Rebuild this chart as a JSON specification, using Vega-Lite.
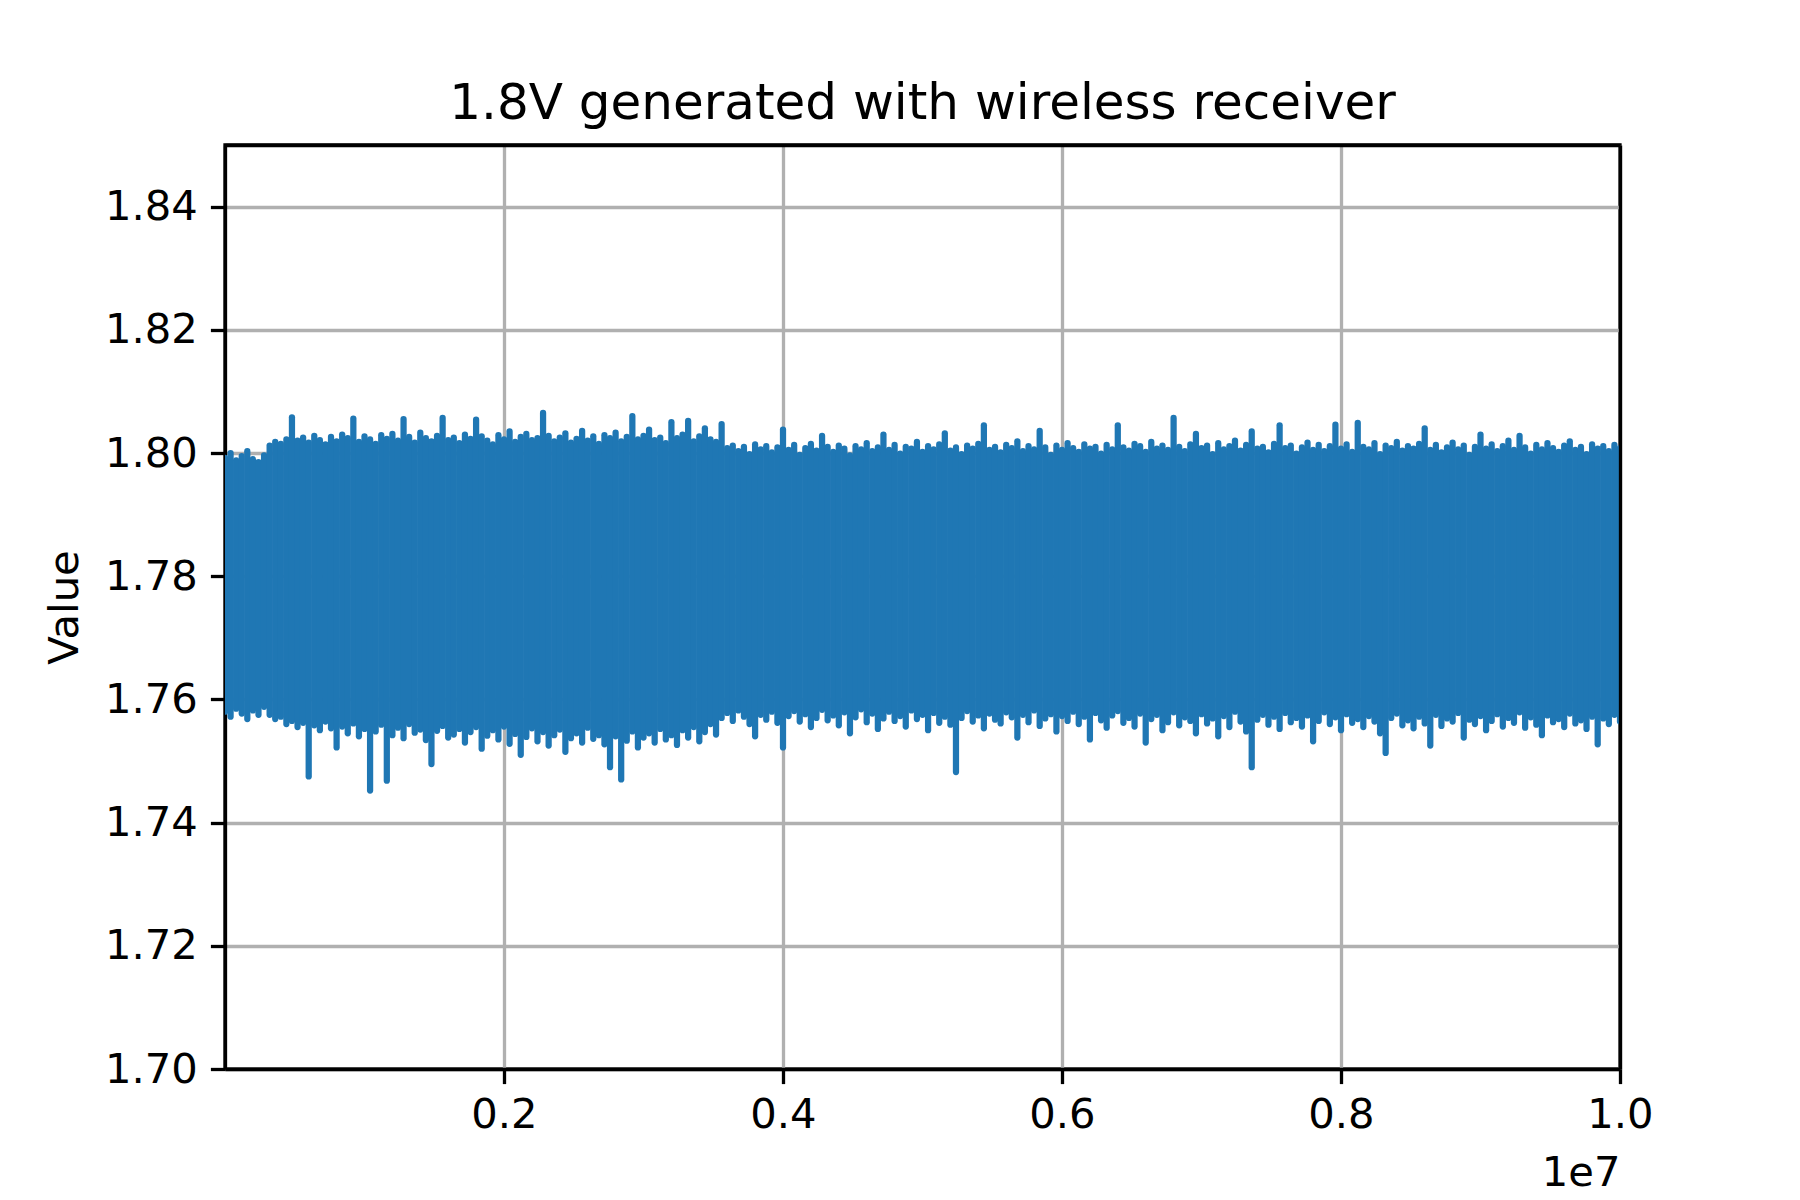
{
"$schema":"https://vega.github.io/schema/vega-lite/v6.json",
"width":1395,"height":924,
"autosize":{"type":"none"},
"padding":{"left":225,"top":145,"right":180,"bottom":132},
"background":"white",
"title":{"text":"1.8V generated with wireless receiver","fontSize":50,"font":"DejaVu Sans","fontWeight":"normal","color":"black","offset":-24,"baseline":"alphabetic"},
"data":{"values":[
{"x":0,"hi":1.7992,"lo":1.7580},{"x":40000,"hi":1.8000,"lo":1.7572},{"x":80000,"hi":1.7988,"lo":1.7585},{"x":120000,"hi":1.7995,"lo":1.7577},{"x":160000,"hi":1.8003,"lo":1.7568},{"x":200000,"hi":1.7990,"lo":1.7582},{"x":240000,"hi":1.7985,"lo":1.7575},{"x":280000,"hi":1.7996,"lo":1.7588},
{"x":320000,"hi":1.8012,"lo":1.7575},{"x":360000,"hi":1.8018,"lo":1.7568},{"x":400000,"hi":1.8015,"lo":1.7572},{"x":440000,"hi":1.8022,"lo":1.7560},{"x":480000,"hi":1.8058,"lo":1.7565},{"x":520000,"hi":1.8020,"lo":1.7555},{"x":560000,"hi":1.8025,"lo":1.7562},{"x":600000,"hi":1.8017,"lo":1.7475},{"x":640000,"hi":1.8028,"lo":1.7558},{"x":680000,"hi":1.8021,"lo":1.7550},{"x":720000,"hi":1.8014,"lo":1.7564},{"x":760000,"hi":1.8026,"lo":1.7553},{"x":800000,"hi":1.8019,"lo":1.7522},{"x":840000,"hi":1.8030,"lo":1.7556},{"x":880000,"hi":1.8024,"lo":1.7545},{"x":920000,"hi":1.8056,"lo":1.7561},{"x":960000,"hi":1.8018,"lo":1.7540},{"x":1000000,"hi":1.8027,"lo":1.7552},{"x":1040000,"hi":1.8022,"lo":1.7452},{"x":1080000,"hi":1.8015,"lo":1.7548},{"x":1120000,"hi":1.8029,"lo":1.7559},{"x":1160000,"hi":1.8023,"lo":1.7468},{"x":1200000,"hi":1.8031,"lo":1.7542},{"x":1240000,"hi":1.8020,"lo":1.7554},{"x":1280000,"hi":1.8055,"lo":1.7537},{"x":1320000,"hi":1.8026,"lo":1.7560},{"x":1360000,"hi":1.8017,"lo":1.7546},{"x":1400000,"hi":1.8033,"lo":1.7551},{"x":1440000,"hi":1.8024,"lo":1.7534},{"x":1480000,"hi":1.8019,"lo":1.7495},{"x":1520000,"hi":1.8028,"lo":1.7549},{"x":1560000,"hi":1.8057,"lo":1.7557},{"x":1600000,"hi":1.8021,"lo":1.7538},{"x":1640000,"hi":1.8025,"lo":1.7543},{"x":1680000,"hi":1.8016,"lo":1.7552},{"x":1720000,"hi":1.8030,"lo":1.7530},{"x":1760000,"hi":1.8023,"lo":1.7547},{"x":1800000,"hi":1.8054,"lo":1.7555},{"x":1840000,"hi":1.8027,"lo":1.7520},{"x":1880000,"hi":1.8020,"lo":1.7541},{"x":1920000,"hi":1.8014,"lo":1.7550},{"x":1960000,"hi":1.8029,"lo":1.7535},{"x":2000000,"hi":1.8022,"lo":1.7556},{"x":2040000,"hi":1.8035,"lo":1.7528},{"x":2080000,"hi":1.8018,"lo":1.7544},{"x":2120000,"hi":1.8026,"lo":1.7510},{"x":2160000,"hi":1.8031,"lo":1.7539},{"x":2200000,"hi":1.8021,"lo":1.7553},{"x":2240000,"hi":1.8024,"lo":1.7532},{"x":2280000,"hi":1.8065,"lo":1.7547},{"x":2320000,"hi":1.8028,"lo":1.7525},{"x":2360000,"hi":1.8019,"lo":1.7542},{"x":2400000,"hi":1.8025,"lo":1.7551},{"x":2440000,"hi":1.8032,"lo":1.7515},{"x":2480000,"hi":1.8017,"lo":1.7537},{"x":2520000,"hi":1.8023,"lo":1.7545},{"x":2560000,"hi":1.8036,"lo":1.7530},{"x":2600000,"hi":1.8020,"lo":1.7554},{"x":2640000,"hi":1.8027,"lo":1.7536},{"x":2680000,"hi":1.8015,"lo":1.7542},{"x":2720000,"hi":1.8029,"lo":1.7527},{"x":2760000,"hi":1.8024,"lo":1.7490},{"x":2800000,"hi":1.8033,"lo":1.7540},{"x":2840000,"hi":1.8019,"lo":1.7470},{"x":2880000,"hi":1.8026,"lo":1.7533},{"x":2920000,"hi":1.8060,"lo":1.7548},{"x":2960000,"hi":1.8022,"lo":1.7522},{"x":3000000,"hi":1.8028,"lo":1.7538},{"x":3040000,"hi":1.8038,"lo":1.7545},{"x":3080000,"hi":1.8021,"lo":1.7530},{"x":3120000,"hi":1.8025,"lo":1.7552},{"x":3160000,"hi":1.8016,"lo":1.7535},{"x":3200000,"hi":1.8050,"lo":1.7542},{"x":3240000,"hi":1.8024,"lo":1.7526},{"x":3280000,"hi":1.8030,"lo":1.7550},{"x":3320000,"hi":1.8052,"lo":1.7538},{"x":3360000,"hi":1.8019,"lo":1.7555},{"x":3400000,"hi":1.8027,"lo":1.7532},{"x":3440000,"hi":1.8040,"lo":1.7547},{"x":3480000,"hi":1.8022,"lo":1.7560},{"x":3520000,"hi":1.8018,"lo":1.7543},
{"x":3560000,"hi":1.8047,"lo":1.7570},{"x":3600000,"hi":1.8008,"lo":1.7578},{"x":3640000,"hi":1.8012,"lo":1.7565},{"x":3680000,"hi":1.8003,"lo":1.7582},{"x":3720000,"hi":1.8010,"lo":1.7572},{"x":3760000,"hi":1.7998,"lo":1.7560},{"x":3800000,"hi":1.8014,"lo":1.7540},{"x":3840000,"hi":1.8006,"lo":1.7575},{"x":3880000,"hi":1.8011,"lo":1.7567},{"x":3920000,"hi":1.8001,"lo":1.7580},{"x":3960000,"hi":1.8009,"lo":1.7562},{"x":4000000,"hi":1.8038,"lo":1.7522},{"x":4040000,"hi":1.8005,"lo":1.7573},{"x":4080000,"hi":1.8013,"lo":1.7581},{"x":4120000,"hi":1.7997,"lo":1.7564},{"x":4160000,"hi":1.8008,"lo":1.7576},{"x":4200000,"hi":1.8015,"lo":1.7555},{"x":4240000,"hi":1.8004,"lo":1.7570},{"x":4280000,"hi":1.8028,"lo":1.7583},{"x":4320000,"hi":1.8010,"lo":1.7566},{"x":4360000,"hi":1.8002,"lo":1.7574},{"x":4400000,"hi":1.8012,"lo":1.7558},{"x":4440000,"hi":1.8007,"lo":1.7579},{"x":4480000,"hi":1.7996,"lo":1.7545},{"x":4520000,"hi":1.8011,"lo":1.7571},{"x":4560000,"hi":1.8006,"lo":1.7584},{"x":4600000,"hi":1.8016,"lo":1.7563},{"x":4640000,"hi":1.8003,"lo":1.7577},{"x":4680000,"hi":1.8009,"lo":1.7552},{"x":4720000,"hi":1.8030,"lo":1.7569},{"x":4760000,"hi":1.8005,"lo":1.7580},{"x":4800000,"hi":1.8013,"lo":1.7565},{"x":4840000,"hi":1.7999,"lo":1.7573},{"x":4880000,"hi":1.8010,"lo":1.7556},{"x":4920000,"hi":1.8007,"lo":1.7582},{"x":4960000,"hi":1.8018,"lo":1.7568},{"x":5000000,"hi":1.8002,"lo":1.7575},{"x":5040000,"hi":1.8011,"lo":1.7550},{"x":5080000,"hi":1.8006,"lo":1.7578},{"x":5120000,"hi":1.8014,"lo":1.7562},{"x":5160000,"hi":1.8032,"lo":1.7572},{"x":5200000,"hi":1.8004,"lo":1.7559},{"x":5240000,"hi":1.8009,"lo":1.7482},{"x":5280000,"hi":1.7998,"lo":1.7570},{"x":5320000,"hi":1.8012,"lo":1.7581},{"x":5360000,"hi":1.8007,"lo":1.7564},{"x":5400000,"hi":1.8015,"lo":1.7574},{"x":5440000,"hi":1.8045,"lo":1.7553},{"x":5480000,"hi":1.8005,"lo":1.7577},{"x":5520000,"hi":1.8010,"lo":1.7567},{"x":5560000,"hi":1.8001,"lo":1.7561},{"x":5600000,"hi":1.8013,"lo":1.7579},{"x":5640000,"hi":1.8008,"lo":1.7571},{"x":5680000,"hi":1.8019,"lo":1.7538},{"x":5720000,"hi":1.8003,"lo":1.7575},{"x":5760000,"hi":1.8011,"lo":1.7563},{"x":5800000,"hi":1.8006,"lo":1.7582},{"x":5840000,"hi":1.8036,"lo":1.7557},{"x":5880000,"hi":1.8009,"lo":1.7569},{"x":5920000,"hi":1.7997,"lo":1.7576},{"x":5960000,"hi":1.8012,"lo":1.7548},{"x":6000000,"hi":1.8005,"lo":1.7573},{"x":6040000,"hi":1.8016,"lo":1.7565},{"x":6080000,"hi":1.8008,"lo":1.7580},{"x":6120000,"hi":1.8002,"lo":1.7560},{"x":6160000,"hi":1.8014,"lo":1.7572},{"x":6200000,"hi":1.8007,"lo":1.7535},{"x":6240000,"hi":1.8010,"lo":1.7578},{"x":6280000,"hi":1.7999,"lo":1.7566},{"x":6320000,"hi":1.8013,"lo":1.7554},{"x":6360000,"hi":1.8006,"lo":1.7574},{"x":6400000,"hi":1.8045,"lo":1.7581},{"x":6440000,"hi":1.8009,"lo":1.7562},{"x":6480000,"hi":1.8004,"lo":1.7570},{"x":6520000,"hi":1.8015,"lo":1.7556},{"x":6560000,"hi":1.8011,"lo":1.7577},{"x":6600000,"hi":1.8002,"lo":1.7530},{"x":6640000,"hi":1.8018,"lo":1.7568},{"x":6680000,"hi":1.8007,"lo":1.7575},{"x":6720000,"hi":1.8012,"lo":1.7550},{"x":6760000,"hi":1.8005,"lo":1.7563},{"x":6800000,"hi":1.8057,"lo":1.7579},{"x":6840000,"hi":1.8010,"lo":1.7558},{"x":6880000,"hi":1.8003,"lo":1.7571},{"x":6920000,"hi":1.8014,"lo":1.7565},{"x":6960000,"hi":1.8031,"lo":1.7545},{"x":7000000,"hi":1.8008,"lo":1.7576},{"x":7040000,"hi":1.8012,"lo":1.7561},{"x":7080000,"hi":1.7998,"lo":1.7569},{"x":7120000,"hi":1.8016,"lo":1.7540},{"x":7160000,"hi":1.8006,"lo":1.7573},{"x":7200000,"hi":1.8011,"lo":1.7555},{"x":7240000,"hi":1.8020,"lo":1.7580},{"x":7280000,"hi":1.8004,"lo":1.7564},{"x":7320000,"hi":1.8013,"lo":1.7548},{"x":7360000,"hi":1.8035,"lo":1.7490},{"x":7400000,"hi":1.8007,"lo":1.7567},{"x":7440000,"hi":1.8010,"lo":1.7575},{"x":7480000,"hi":1.8001,"lo":1.7559},{"x":7520000,"hi":1.8015,"lo":1.7572},{"x":7560000,"hi":1.8045,"lo":1.7552},{"x":7600000,"hi":1.8008,"lo":1.7578},{"x":7640000,"hi":1.8012,"lo":1.7563},{"x":7680000,"hi":1.7999,"lo":1.7570},{"x":7720000,"hi":1.8009,"lo":1.7556},{"x":7760000,"hi":1.8017,"lo":1.7574},{"x":7800000,"hi":1.8005,"lo":1.7532},{"x":7840000,"hi":1.8013,"lo":1.7565},{"x":7880000,"hi":1.8003,"lo":1.7579},{"x":7920000,"hi":1.8011,"lo":1.7560},{"x":7960000,"hi":1.8046,"lo":1.7571},{"x":8000000,"hi":1.8007,"lo":1.7550},{"x":8040000,"hi":1.8014,"lo":1.7576},{"x":8080000,"hi":1.8002,"lo":1.7562},{"x":8120000,"hi":1.8049,"lo":1.7568},{"x":8160000,"hi":1.8010,"lo":1.7555},{"x":8200000,"hi":1.8006,"lo":1.7573},{"x":8240000,"hi":1.8016,"lo":1.7564},{"x":8280000,"hi":1.7998,"lo":1.7545},{"x":8320000,"hi":1.8012,"lo":1.7513},{"x":8360000,"hi":1.8008,"lo":1.7570},{"x":8400000,"hi":1.8018,"lo":1.7577},{"x":8440000,"hi":1.8004,"lo":1.7558},{"x":8480000,"hi":1.8011,"lo":1.7566},{"x":8520000,"hi":1.8007,"lo":1.7553},{"x":8560000,"hi":1.8015,"lo":1.7572},{"x":8600000,"hi":1.8040,"lo":1.7561},{"x":8640000,"hi":1.8005,"lo":1.7525},{"x":8680000,"hi":1.8013,"lo":1.7575},{"x":8720000,"hi":1.8001,"lo":1.7557},{"x":8760000,"hi":1.8009,"lo":1.7569},{"x":8800000,"hi":1.8017,"lo":1.7564},{"x":8840000,"hi":1.8006,"lo":1.7578},{"x":8880000,"hi":1.8012,"lo":1.7538},{"x":8920000,"hi":1.7997,"lo":1.7567},{"x":8960000,"hi":1.8010,"lo":1.7560},{"x":9000000,"hi":1.8030,"lo":1.7573},{"x":9040000,"hi":1.8007,"lo":1.7550},{"x":9080000,"hi":1.8014,"lo":1.7565},{"x":9120000,"hi":1.8003,"lo":1.7576},{"x":9160000,"hi":1.8011,"lo":1.7556},{"x":9200000,"hi":1.8020,"lo":1.7570},{"x":9240000,"hi":1.8005,"lo":1.7562},{"x":9280000,"hi":1.8028,"lo":1.7579},{"x":9320000,"hi":1.8009,"lo":1.7554},{"x":9360000,"hi":1.7999,"lo":1.7571},{"x":9400000,"hi":1.8013,"lo":1.7559},{"x":9440000,"hi":1.8006,"lo":1.7542},{"x":9480000,"hi":1.8016,"lo":1.7574},{"x":9520000,"hi":1.8008,"lo":1.7563},{"x":9560000,"hi":1.8002,"lo":1.7568},{"x":9600000,"hi":1.8012,"lo":1.7555},{"x":9640000,"hi":1.8019,"lo":1.7577},{"x":9680000,"hi":1.8005,"lo":1.7561},{"x":9720000,"hi":1.8010,"lo":1.7566},{"x":9760000,"hi":1.7998,"lo":1.7552},{"x":9800000,"hi":1.8014,"lo":1.7572},{"x":9840000,"hi":1.8007,"lo":1.7527},{"x":9880000,"hi":1.8011,"lo":1.7569},{"x":9920000,"hi":1.8003,"lo":1.7560},{"x":9960000,"hi":1.8013,"lo":1.7575},{"x":10000000,"hi":1.8008,"lo":1.7564}
]},
"layer":[
{"mark":{"type":"rule","color":"#1f77b4","strokeWidth":6.25,"strokeCap":"round","clip":true},
"encoding":{
"x":{"field":"x","type":"quantitative","scale":{"domain":[0,10000000],"nice":false,"zero":false},
 "axis":{"values":[2000000,4000000,6000000,8000000,10000000],"labelExpr":"format(datum.value/10000000,'.1f')","title":"1e7","titleAnchor":"end","titleAlign":"right","titlePadding":16,"labelPadding":11}},
"y":{"field":"hi","type":"quantitative","scale":{"domain":[1.70,1.85],"nice":false,"zero":false},
 "axis":{"values":[1.70,1.72,1.74,1.76,1.78,1.80,1.82,1.84],"format":".2f","title":"Value","titlePadding":18}},
"y2":{"field":"lo"}
}},
{"mark":{"type":"rule","opacity":0,"clip":true},
"encoding":{
"x":{"field":"x","type":"quantitative","axis":{"orient":"top","domain":true,"ticks":false,"labels":false,"grid":false,"title":null,"zindex":2}},
"y":{"field":"hi","type":"quantitative","axis":{"orient":"right","domain":true,"ticks":false,"labels":false,"grid":false,"title":null,"zindex":2}},
"y2":{"field":"lo"}
}}
],
"resolve":{"axis":{"x":"independent","y":"independent"}},
"config":{
"font":"DejaVu Sans",
"view":{"stroke":"black","strokeWidth":3.3},
"axis":{"labelFont":"DejaVu Sans","labelFontSize":41.7,"labelColor":"black","labelPadding":13,
 "titleFont":"DejaVu Sans","titleFontSize":41.7,"titleFontWeight":"normal","titleColor":"black",
 "tickSize":14.6,"tickWidth":3.3,"tickColor":"black","domainColor":"black","domainWidth":3.3,
 "grid":true,"gridColor":"#b0b0b0","gridWidth":3.3,"labelFlush":false,"labelOverlap":false}
}
}
